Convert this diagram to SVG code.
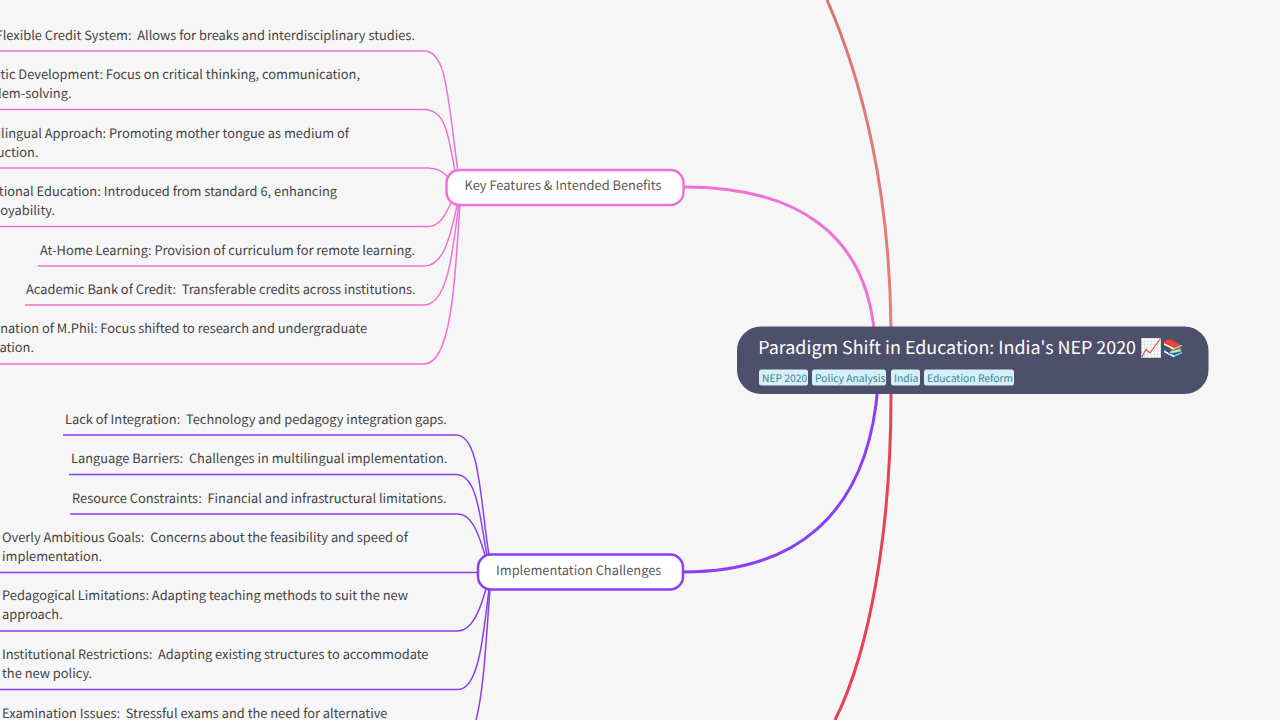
<svg xmlns="http://www.w3.org/2000/svg" width="1280" height="720" viewBox="0 0 1280 720">
<defs>
<linearGradient id="red" x1="0" y1="0" x2="0" y2="720" gradientUnits="userSpaceOnUse"><stop offset="0" stop-color="#de7272"/><stop offset="0.45" stop-color="#e47f82"/><stop offset="0.55" stop-color="#e8405a"/><stop offset="1" stop-color="#e8405a"/></linearGradient>
</defs>
<style>
text{font-family:"Noto Sans CJK SC","Noto Sans CJK JP","Noto Sans",sans-serif;white-space:pre;text-rendering:geometricPrecision}
.leaf{font-size:12.85px;fill:#444}
.e{text-anchor:end}
.branch{font-size:12.85px;fill:#5a5a5a}
.p{fill:none;stroke:#ee72d6;stroke-width:1.5}
.v{fill:none;stroke:#8a3ff0;stroke-width:1.5}
.bp{fill:#fff;stroke:#ee72d6;stroke-width:2.5}
.bv{fill:#fff;stroke:#8a3ff0;stroke-width:2.5}
.tag{fill:#d6f0f8}
.tagt{font-size:10.3px;fill:#3c7f98}
</style>
<rect width="1280" height="720" fill="#f6f6f6"/>
<g id="connectors">
<path d="M827 0C862 80 890 190 891 330V395C891 530 870 650 835 720" fill="none" stroke="url(#red)" stroke-width="3"/>
<path d="M684 187C795 187 868 232 875 340" fill="none" stroke="#ee72d6" stroke-width="3"/>
<path d="M684 572C790 572 868 520 878 385" fill="none" stroke="#8a3ff0" stroke-width="3"/>
<path class="p" d="M-10 51H424C446 51 447 90 458 172"/>
<path class="p" d="M-10 109.500H424C444 109.500 448 130 455 172"/>
<path class="p" d="M-10 168H428C438 168 443 172 448 177"/>
<path class="p" d="M-10 226.500H428C440 226.500 445 215 451 203"/>
<path class="p" d="M38 266H424C446 266 451 230 458 202"/>
<path class="p" d="M25 305H424C448 305 453 250 459 202"/>
<path class="p" d="M-10 364H424C450 364 455 290 460 202"/>
<path class="v" d="M63 435H456C480 435 480 500 489 555"/>
<path class="v" d="M69 474.500H456C478 474.500 480 520 487 555"/>
<path class="v" d="M70 514H458C470 514 477 528 485 555"/>
<path class="v" d="M0 572.500H478"/>
<path class="v" d="M0 631H458C472 631 480 610 486 589"/>
<path class="v" d="M0 689.500H458C478 689.500 483 640 489 589"/>
<path class="v" d="M476 720C484 690 486 640 490 589"/>
</g>
<g id="root">
<rect x="737" y="326.500" width="471.500" height="67.500" rx="24" fill="#4d4f6b"/>
<text x="758.300" y="354" font-size="17.900" fill="#fff">Paradigm Shift in Education: India's NEP 2020 📈📚</text>
<rect class="tag" x="759" y="369.500" width="49" height="16" rx="2.500"/><text class="tagt" x="762" y="381.500">NEP 2020</text>
<rect class="tag" x="812" y="369.500" width="74" height="16" rx="2.500"/><text class="tagt" x="815" y="381.500">Policy Analysis</text>
<rect class="tag" x="891" y="369.500" width="29" height="16" rx="2.500"/><text class="tagt" x="894" y="381.500">India</text>
<rect class="tag" x="924" y="369.500" width="90" height="16" rx="2.500"/><text class="tagt" x="927" y="381.500">Education Reform</text>
</g>
<g id="branch-features">
<rect class="bp" x="446.500" y="170" width="237" height="35" rx="13"/>
<text class="branch" x="464.500" y="190.200">Key Features &amp; Intended Benefits</text>
</g>
<g id="branch-challenges">
<rect class="bv" x="478" y="554.500" width="205" height="35" rx="13"/>
<text class="branch" x="496" y="575">Implementation Challenges</text>
</g>
<g id="leaves-features" class="leaf">
<text class="e" x="415" y="39.500">Flexible Credit System:  Allows for breaks and interdisciplinary studies.</text>
<text class="e" x="360" y="78.500">tic Development: Focus on critical thinking, communication,</text>
<text class="e" x="71.500" y="97.500">lem-solving.</text>
<text class="e" x="349" y="137.500">ilingual Approach: Promoting mother tongue as medium of</text>
<text class="e" x="38.500" y="156.500">uction.</text>
<text class="e" x="337" y="195.500">tional Education: Introduced from standard 6, enhancing</text>
<text class="e" x="55" y="214.500">oyability.</text>
<text x="40" y="254.500">At-Home Learning: Provision of curriculum for remote learning.</text>
<text x="26" y="293.500">Academic Bank of Credit:  Transferable credits across institutions.</text>
<text class="e" x="367" y="332.500">nation of M.Phil: Focus shifted to research and undergraduate</text>
<text class="e" x="34" y="351.500">ation.</text>
</g>
<g id="leaves-challenges" class="leaf">
<text x="65" y="423.500">Lack of Integration:  Technology and pedagogy integration gaps.</text>
<text x="71" y="462.500">Language Barriers:  Challenges in multilingual implementation.</text>
<text x="72" y="502.500">Resource Constraints:  Financial and infrastructural limitations.</text>
<text x="2" y="541.500">Overly Ambitious Goals:  Concerns about the feasibility and speed of</text>
<text x="2" y="560.500">implementation.</text>
<text x="2" y="600">Pedagogical Limitations: Adapting teaching methods to suit the new</text>
<text x="2" y="619">approach.</text>
<text x="2" y="659">Institutional Restrictions:  Adapting existing structures to accommodate</text>
<text x="2" y="678">the new policy.</text>
<text x="2" y="717.500">Examination Issues:  Stressful exams and the need for alternative</text>
</g>
</svg>
